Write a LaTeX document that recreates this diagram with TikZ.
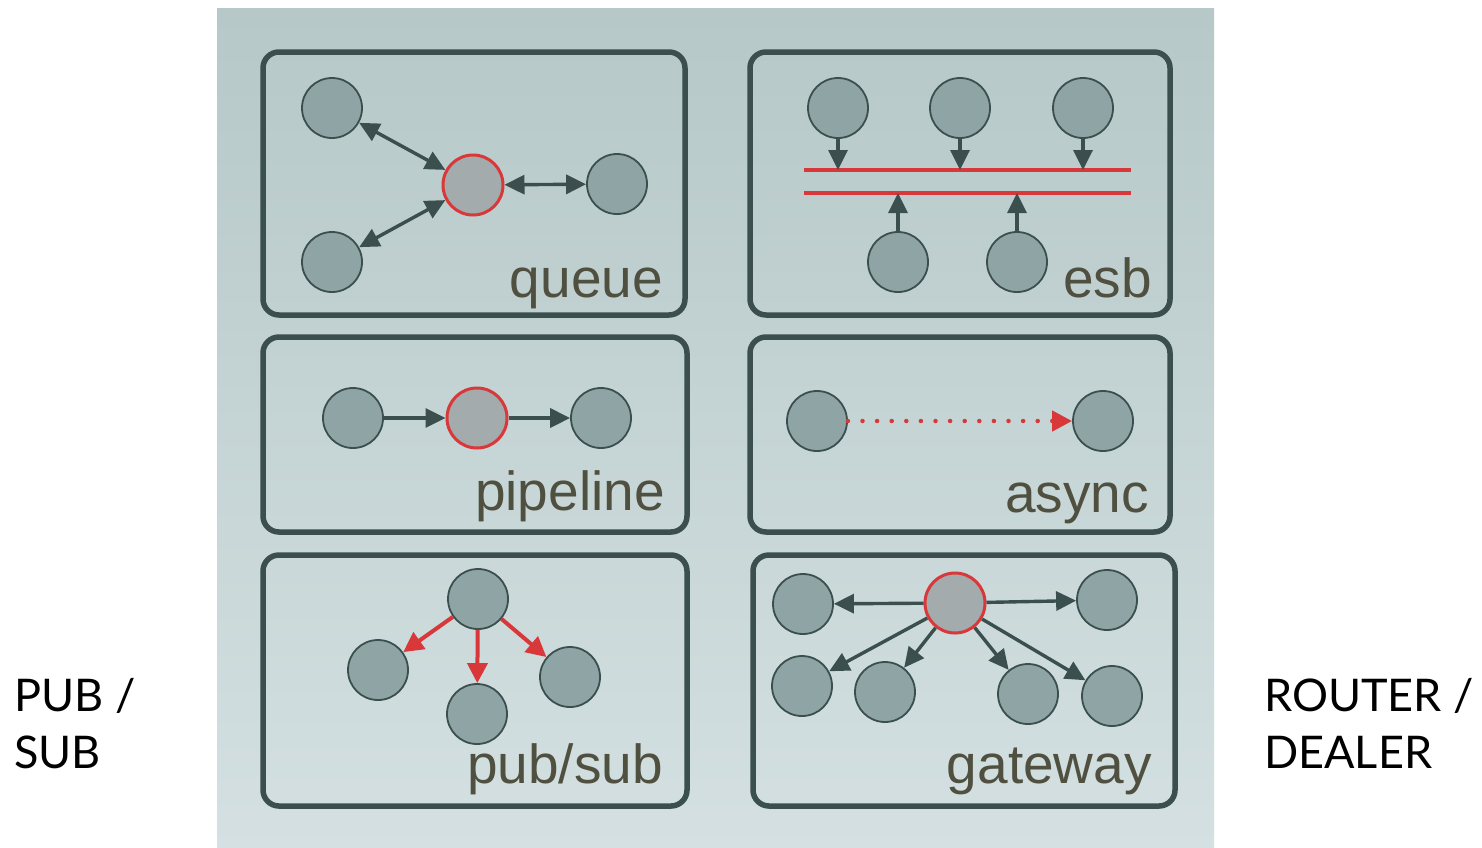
\documentclass[tikz,border=0pt]{standalone}
\usepackage{fontspec}
\setmainfont{Liberation Sans}
\newfontfamily\sidefont{Lato}
\usetikzlibrary{arrows.meta}
\definecolor{bgtop}{HTML}{B6C8C8}
\definecolor{bgbot}{HTML}{D4E0E1}
\definecolor{frame}{HTML}{3A4F4E}
\definecolor{nodefill}{HTML}{8FA4A4}
\definecolor{hubfill}{HTML}{A3ABAC}
\definecolor{redc}{HTML}{D9383A}
\definecolor{labc}{HTML}{4F5040}
\tikzset{
  x=1pt,y=-1pt,
  panel/.style={draw=frame,line width=5.5pt,rounded corners=16pt},
  circ/.style={circle,minimum size=60pt,inner sep=0pt,fill=nodefill,draw=frame,line width=1.8pt},
  hub/.style={circle,minimum size=60pt,inner sep=0pt,fill=hubfill,draw=redc,line width=3pt},
  conn/.style={draw=frame,line width=3.4pt,-{Triangle[length=20pt,width=19pt]}},
  bconn/.style={draw=frame,line width=3.4pt,{Triangle[length=20pt,width=19pt]}-{Triangle[length=20pt,width=19pt]}},
  rconn/.style={draw=redc,line width=4pt,-{Triangle[length=20pt,width=20pt]}},
  bus/.style={draw=redc,line width=3.4pt},
  lab/.style={anchor=base east,inner sep=0pt,text=labc,font=\fontsize{55}{60}\selectfont},
  side/.style={anchor=base west,inner sep=0pt,align=left,font=\sidefont\fontsize{45}{57}\selectfont}
}
\begin{document}
\begin{tikzpicture}
\useasboundingbox (0,0) rectangle (1482,847);
\shade[top color=bgtop,bottom color=bgbot] (217,8) rectangle (1214,847);
% panels
\draw[panel] (263,52) rectangle (685,315);
\draw[panel] (750,52) rectangle (1170,315);
\draw[panel] (263,337) rectangle (687,532);
\draw[panel] (750,337) rectangle (1170,532);
\draw[panel] (263,555) rectangle (687,806);
\draw[panel] (753,555) rectangle (1175,806);
% queue
\node[circ] (q1) at (332,108) {};
\node[circ] (q2) at (332,262) {};
\node[hub] (qh) at (473,185) {};
\node[circ] (q3) at (617,184) {};
\draw[bconn] (q1) -- (qh);
\draw[bconn] (q2) -- (qh);
\draw[bconn] (qh) -- (q3);
\node[lab] (ql) at (663,297) {queue};
% esb
\node[circ] (e1) at (838,108) {};
\node[circ] (e2) at (960,108) {};
\node[circ] (e3) at (1083,108) {};
\node[circ] (e4) at (898,262) {};
\node[circ] (e5) at (1017,262) {};
\coordinate (busAl) at (804,170);
\coordinate (busAr) at (1131,170);
\coordinate (busBl) at (804,193);
\coordinate (busBr) at (1131,193);
\draw[bus] (busAl) -- (busAr);
\draw[bus] (busBl) -- (busBr);
\coordinate (t1) at (838,170);
\coordinate (t2) at (960,170);
\coordinate (t3) at (1083,170);
\coordinate (t4) at (898,193);
\coordinate (t5) at (1017,193);
\draw[conn] (e1) -- (t1);
\draw[conn] (e2) -- (t2);
\draw[conn] (e3) -- (t3);
\draw[conn] (e4) -- (t4);
\draw[conn] (e5) -- (t5);
\node[lab] (el) at (1152,297) {esb};
% pipeline
\node[circ] (p1) at (353,418) {};
\node[hub] (ph) at (477,418) {};
\node[circ] (p2) at (601,418) {};
\draw[conn] (p1) -- (ph);
\draw[conn] (ph) -- (p2);
\node[lab] (pl) at (665,510) {pipeline};
% async
\node[circ] (a1) at (817,421) {};
\node[circ] (a2) at (1103,421) {};
\draw[draw=redc,line width=4.5pt,line cap=round,dash pattern=on 0pt off 14.6pt,-{Triangle[length=20pt,width=20pt]}] (a1) -- (a2);
\node[lab] (al) at (1149,512) {async};
% pub/sub
\node[circ] (s0) at (478,599) {};
\node[circ] (s1) at (378,670) {};
\node[circ] (s2) at (477,714) {};
\node[circ] (s3) at (570,677) {};
\draw[rconn] (s0) -- (s1);
\draw[rconn] (s0) -- (s2);
\draw[rconn] (s0) -- (s3);
\node[lab] (sl) at (663,783) {pub/sub};
% gateway
\node[hub] (gh) at (955,603) {};
\node[circ] (g1) at (803,604) {};
\node[circ] (g2) at (1107,600) {};
\node[circ] (g3) at (802,686) {};
\node[circ] (g4) at (885,692) {};
\node[circ] (g5) at (1028,694) {};
\node[circ] (g6) at (1112,696) {};
\draw[conn] (gh) -- (g1);
\draw[conn] (gh) -- (g2);
\draw[conn] (gh) -- (g3);
\draw[conn] (gh) -- (g4);
\draw[conn] (gh) -- (g5);
\draw[conn] (gh) -- (g6);
\node[lab] (gl) at (1152,783) {gateway};
% side labels
\node[side] (ps) at (14,768) {PUB /\\SUB};
\node[side] (rd) at (1264,768) {ROUTER /\\DEALER};
\end{tikzpicture}
\end{document}
